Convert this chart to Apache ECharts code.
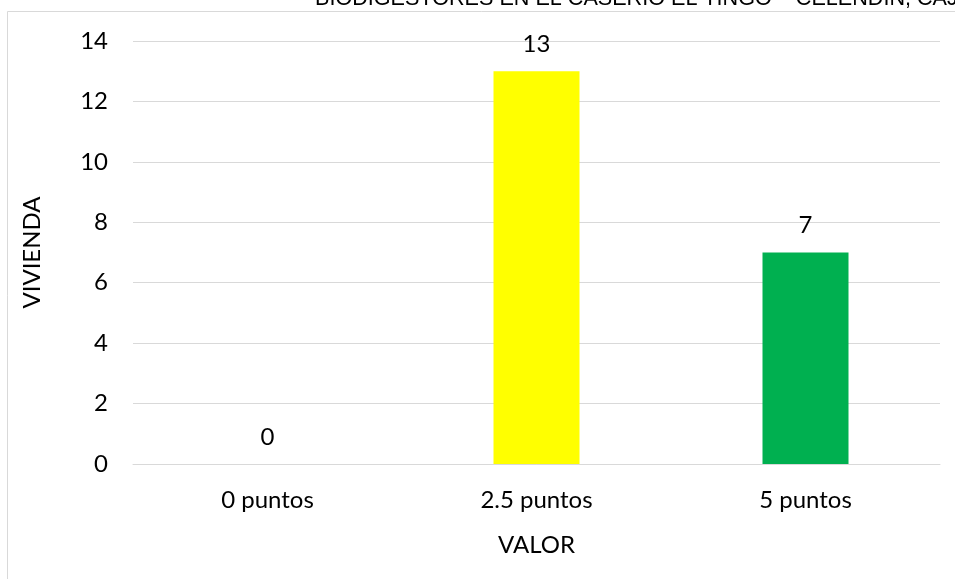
<!DOCTYPE html>
<html>
<head>
<meta charset="utf-8">
<script src="https://cdn.jsdelivr.net/npm/echarts@6/dist/echarts.min.js"></script>
<style>
  html, body { margin: 0; padding: 0; background: #fff; }
  #chart { width: 955px; height: 579px; }
</style>
</head>
<body>
<div id="chart"></div>
<script>
// categorias y valores
var categorias = ['0 puntos', '2.5 puntos', '5 puntos'];
var viviendas = [0, 13, 7];
var colores = ['#FFFF00', '#FFFF00', '#00B050'];
var titulo = 'BIODIGESTORES EN EL CASERIO EL TINGO – CELENDIN, CAJAMARCA';

var fuente = 'Lato, "Open Sans", sans-serif';
var chart = echarts.init(document.getElementById('chart'));

var option = {
  animation: false,
  backgroundColor: '#fff',
  graphic: [
    { // borde del area del grafico
      type: 'rect',
      shape: { x: 7.5, y: 11.5, width: 1000, height: 1000 },
      style: { fill: 'none', stroke: '#d9d9d9', lineWidth: 1 }
    },
    {
      type: 'text',
      left: 315,
      top: -12,
      style: { text: titulo, font: '21.6px "Liberation Sans", Arial, sans-serif', fill: '#000' }
    }
  ],
  grid: { left: 133, right: 15, top: 41, bottom: 115 },
  xAxis: {
    type: 'category',
    data: categorias,
    name: 'VALOR',
    nameLocation: 'middle',
    nameGap: 69,
    nameTextStyle: { fontFamily: fuente, fontSize: 24, color: '#000' },
    axisLine: { show: true, lineStyle: { color: '#d9d9d9' } },
    axisTick: { show: false },
    axisLabel: { fontFamily: fuente, fontSize: 24, color: '#000', margin: 24 }
  },
  yAxis: {
    type: 'value',
    min: 0, max: 14, interval: 2,
    name: 'VIVIENDA',
    nameLocation: 'middle',
    nameGap: 89,
    nameTextStyle: { fontFamily: fuente, fontSize: 24, color: '#000' },
    axisLine: { show: false },
    axisTick: { show: false },
    splitLine: { lineStyle: { color: '#d9d9d9' } },
    axisLabel: { fontFamily: fuente, fontSize: 24, color: '#000', margin: 25 }
  },
  series: [{
    type: 'bar',
    barWidth: 86,
    data: viviendas.map(function (v, i) {
      return { value: v, itemStyle: { color: colores[i] } };
    }),
    label: {
      show: true,
      position: 'top',
      distance: 15,
      fontFamily: fuente,
      fontSize: 24,
      color: '#000'
    }
  }]
};
chart.setOption(option);
</script>
</body>
</html>
